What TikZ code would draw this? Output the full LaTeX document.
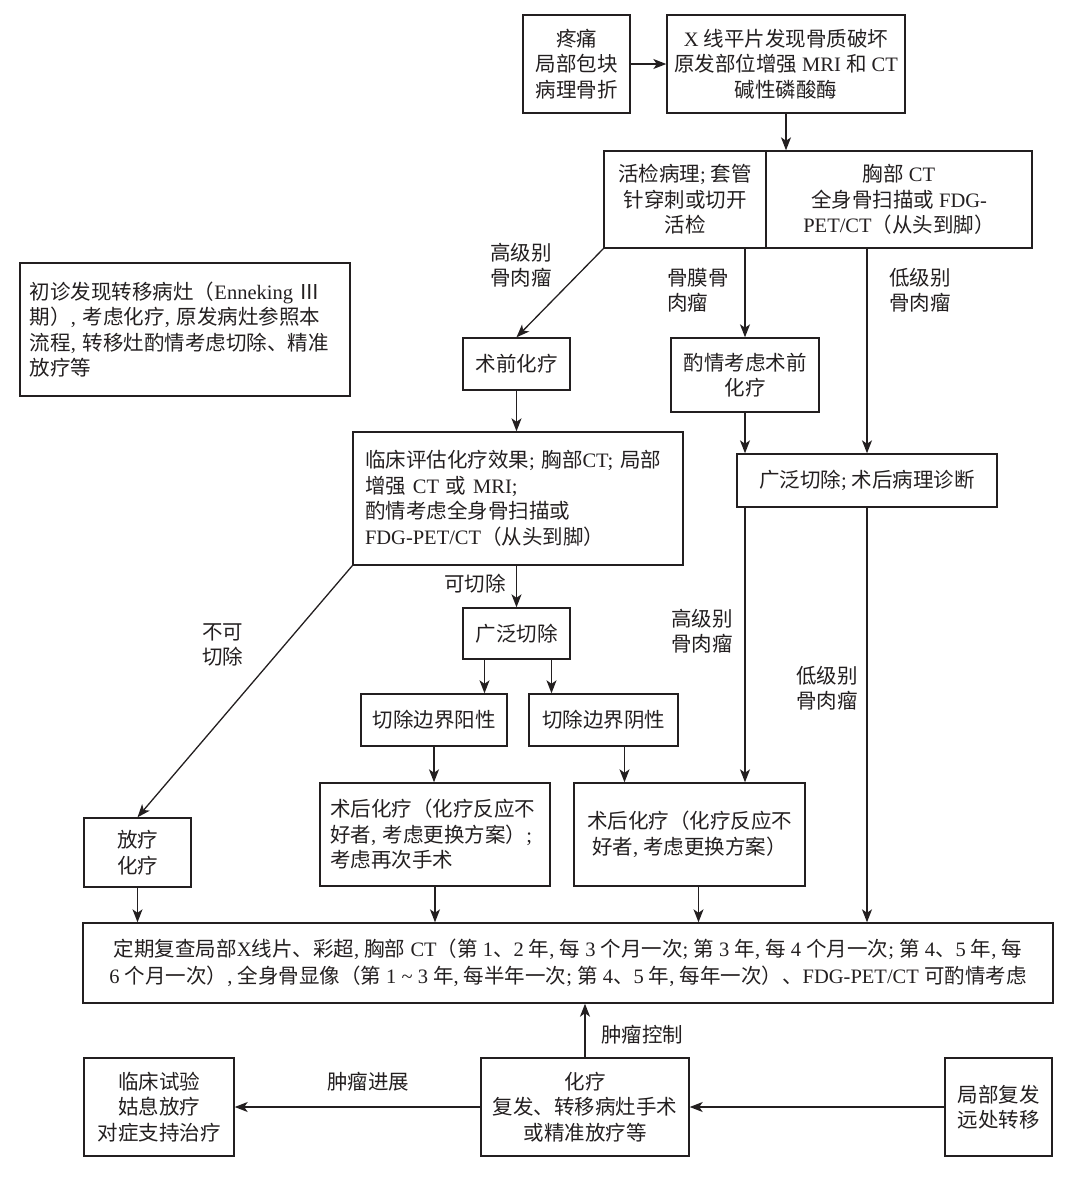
\documentclass[tikz,border=0pt]{standalone}
\usepackage{fontspec}
\setmainfont{Liberation Serif}
\newfontfamily\cjkfont{Noto Sans CJK SC}
\usetikzlibrary{arrows.meta}
\definecolor{ink}{RGB}{35,31,32}
\XeTeXinterchartokenstate=1
\newXeTeXintercharclass\CJKclass
\newcount\cjkc
\def\setcjkrange#1#2{\cjkc=#1\relax\loop\XeTeXcharclass\cjkc=\CJKclass\relax\ifnum\cjkc<#2\relax\advance\cjkc by 1\relax\repeat}
\setcjkrange{"2160}{"217F}
\setcjkrange{"3000}{"303F}
\setcjkrange{"4E00}{"9FFF}
\setcjkrange{"FF00}{"FFEF}
\XeTeXinterchartoks 0 \CJKclass = {\cjkfont}
\XeTeXinterchartoks 4095 \CJKclass = {\cjkfont}
\XeTeXinterchartoks \CJKclass 0 = {\rmfamily}
\XeTeXinterchartoks \CJKclass 4095 = {\rmfamily}
\begin{document}
\begin{tikzpicture}[x=1pt,y=-1pt,
  every node/.style={font=\fontsize{20.5}{25.5}\selectfont, text=ink},
  box/.style={draw=ink, line width=1.4pt, inner sep=0pt, align=center},
  lbox/.style={draw=ink, line width=1.4pt, inner ysep=0pt, align=left},
  arr/.style={draw=ink, line width=1.3pt, -{Stealth[length=13pt,width=10pt,inset=3.5pt]}},
  lbl/.style={inner sep=0pt, align=left}]
\useasboundingbox (0,0) rectangle (1075,1195);

\node[box, minimum width=107pt, minimum height=98pt] (pain) at (576.5,64) {疼痛\\局部包块\\病理骨折};
\node[box, minimum width=238pt, minimum height=98pt] (xray) at (786,64) {X 线平片发现骨质破坏\\原发部位增强 MRI 和 CT\\碱性磷酸酶};
\node[box, minimum width=162pt, minimum height=97pt] (biopL) at (685,199.5) {活检病理; 套管\\针穿刺或切开\\活检};
\node[box, minimum width=266pt, minimum height=97pt] (biopR) at (899,199.5) {胸部 CT\\全身骨扫描或 FDG-\\PET/CT（从头到脚）};

\node[lbox, minimum width=330pt, minimum height=133pt, text width=310pt, inner xsep=10pt] (note) at (185,329.5) {初诊发现转移病灶（Enneking Ⅲ\\期）, 考虑化疗, 原发病灶参照本\\流程, 转移灶酌情考虑切除、精准\\放疗等};

\node[box, minimum width=107pt, minimum height=52pt] (preop) at (516.5,364) {术前化疗};
\node[box, minimum width=148pt, minimum height=74pt] (peri) at (745,375) {酌情考虑术前\\化疗};
\node[box, minimum width=260pt, minimum height=53pt] (wide) at (867,480.5) {广泛切除; 术后病理诊断};

\node[lbox, minimum width=330pt, minimum height=133pt, text width=306pt, inner xsep=12pt] (eval) at (518,498.5) {临床评估化疗效果; 胸部CT; 局部\\增强 CT 或 MRI;\\酌情考虑全身骨扫描或\\FDG-PET/CT（从头到脚）};

\node[box, minimum width=107pt, minimum height=51pt] (resect) at (516.5,633.5) {广泛切除};
\node[box, minimum width=146pt, minimum height=52pt] (pos) at (434,720) {切除边界阳性};
\node[box, minimum width=149pt, minimum height=52pt] (neg) at (603.5,720) {切除边界阴性};

\node[box, minimum width=107pt, minimum height=69pt] (rad) at (137.5,852.5) {放疗\\化疗};
\node[lbox, minimum width=230pt, minimum height=103pt, text width=210pt, inner xsep=10pt] (postL) at (435,834.5) {术后化疗（化疗反应不\\好者, 考虑更换方案）;\\考虑再次手术};
\node[box, minimum width=231pt, minimum height=103pt] (postR) at (689.5,834.5) {术后化疗（化疗反应不\\好者, 考虑更换方案）};

\node[box, minimum width=970pt, minimum height=80pt, font=\fontsize{20.5}{27}\selectfont] (follow) at (568,963) {定期复查局部X线片、彩超, 胸部 CT（第 1、2 年, 每 3 个月一次; 第 3 年, 每 4 个月一次; 第 4、5 年, 每\\6 个月一次）, 全身骨显像（第 1 \textasciitilde{} 3 年, 每半年一次; 第 4、5 年, 每年一次）、FDG-PET/CT 可酌情考虑};

\node[box, minimum width=150pt, minimum height=98pt] (trial) at (159,1107) {临床试验\\姑息放疗\\对症支持治疗};
\node[box, minimum width=208pt, minimum height=98pt] (chemo) at (585,1107) {化疗\\复发、转移病灶手术\\或精准放疗等};
\node[box, minimum width=107pt, minimum height=98pt] (local) at (998.5,1107) {局部复发\\远处转移};

\node[lbl] (l1) at (521,265) {高级别\\骨肉瘤};
\node[lbl, anchor=west] (l2) at (667,290) {骨膜骨\\肉瘤};
\node[lbl] (l3) at (920,290) {低级别\\骨肉瘤};
\node[lbl] (l4) at (475,584) {可切除};
\node[lbl, anchor=west] (l5) at (202,645) {不可\\切除};
\node[lbl] (l6) at (702,631) {高级别\\骨肉瘤};
\node[lbl] (l7) at (827,688) {低级别\\骨肉瘤};
\node[lbl] (l8) at (368,1082) {肿瘤进展};
\node[lbl] (l9) at (642,1035) {肿瘤控制};

\draw[arr] (pain.east) -- (xray.west);
\draw[arr] (xray.south) -- (xray.south |- biopR.north);
\draw[arr] (biopL.south west) -- (preop.north);
\draw[arr] (peri.north |- biopL.south) -- (peri.north);
\draw[arr] (wide.north |- biopR.south) -- (wide.north);
\draw[arr] (preop.south) -- (preop.south |- eval.north);
\draw[arr] (peri.south) -- (peri.south |- wide.north);
\draw[arr] (resect.north |- eval.south) -- (resect.north);
\draw[arr] (eval.south west) -- (rad.north);
\draw[arr] ([xshift=-32pt]resect.south) -- ([xshift=-32pt]resect.south |- pos.north);
\draw[arr] ([xshift=35pt]resect.south) -- ([xshift=35pt]resect.south |- neg.north);
\draw[arr] (pos.south) -- (pos.south |- postL.north);
\draw[arr] ([xshift=21pt]neg.south) -- ([xshift=21pt]neg.south |- postR.north);
\draw[arr] (peri.south |- wide.south) -- (peri.south |- postR.north);
\draw[arr] (wide.south) -- (wide.south |- follow.north);
\draw[arr] (rad.south) -- (rad.south |- follow.north);
\draw[arr] (postL.south) -- (postL.south |- follow.north);
\draw[arr] ([xshift=9pt]postR.south) -- ([xshift=9pt]postR.south |- follow.north);
\draw[arr] (chemo.north) -- (chemo.north |- follow.south);
\draw[arr] (local.west) -- (chemo.east);
\draw[arr] (chemo.west) -- (trial.east);
\end{tikzpicture}
\end{document}
